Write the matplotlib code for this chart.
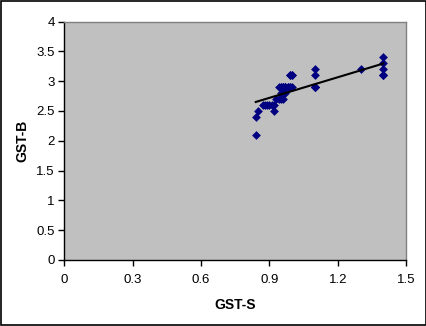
import matplotlib
matplotlib.use("Agg")
import matplotlib.pyplot as plt
import numpy as np

plt.rcParams['font.family'] = ['Liberation Sans', 'DejaVu Sans']

gst_s = [0.84, 0.84, 0.85, 0.87, 0.88, 0.89, 0.90, 0.91, 0.92, 0.92, 0.93, 0.94,
         0.95, 0.96, 0.94, 0.95, 0.96, 0.97, 0.98, 0.99, 1.00, 0.95, 0.97, 0.99,
         1.00, 1.10, 1.10, 1.10, 1.30, 1.40, 1.40, 1.40, 1.40,
         0.99, 1.00, 0.96, 0.97, 0.98, 0.99, 0.96, 0.97, 0.95, 0.96,
         1.40, 1.40, 1.10, 1.10, 1.10]
gst_b = [2.1, 2.4, 2.5, 2.6, 2.6, 2.6, 2.6, 2.6, 2.6, 2.5, 2.7, 2.7,
         2.7, 2.7, 2.9, 2.9, 2.9, 2.9, 2.9, 2.9, 2.9, 2.8, 2.8, 3.1,
         3.1, 3.2, 3.1, 2.9, 3.2, 3.4, 3.3, 3.2, 3.1,
         3.1, 3.1, 2.9, 2.9, 2.9, 2.9, 2.9, 2.9, 2.9, 2.8,
         3.1, 3.1, 2.9, 2.9, 2.9]
x_ticks = [0, 0.3, 0.6, 0.9, 1.2, 1.5]
x_tick_labels = ['0', '0.3', '0.6', '0.9', '1.2', '1.5']
y_ticks = [0, 0.5, 1, 1.5, 2, 2.5, 3, 3.5, 4]
y_tick_labels = ['0', '0.5', '1', '1.5', '2', '2.5', '3', '3.5', '4']

fig = plt.figure(figsize=(4.27, 3.26), dpi=100)
fig.patch.set_facecolor('white')
ax = fig.add_axes([0.151, 0.2025, 0.800, 0.7315])
ax.set_facecolor('#C0C0C0')

ax.scatter(gst_s, gst_b, marker='D', s=20, color='#000080', zorder=3, linewidths=0)

xs = np.array(gst_s)
ys = np.array(gst_b)
m, b = np.polyfit(xs, ys, 1)
xl = np.array([xs.min(), xs.max()])
ax.plot(xl, m * xl + b, color='black', lw=1.5, zorder=4)

ax.set_xlim(0, 1.5)
ax.set_ylim(0, 4)
ax.set_xticks(x_ticks)
ax.set_xticklabels(x_tick_labels)
ax.set_yticks(y_ticks)
ax.set_yticklabels(y_tick_labels)
ax.tick_params(direction='out', length=4, width=1, labelsize=9.5, colors='black', pad=3)
ax.tick_params(axis='x', pad=6)

for s in ['left', 'bottom']:
    ax.spines[s].set_color('black')
    ax.spines[s].set_linewidth(1)
for s in ['top', 'right']:
    ax.spines[s].set_color('#808080')
    ax.spines[s].set_linewidth(1)

ax.set_xlabel('GST-S', fontsize=10, fontweight='bold', labelpad=9)
ax.set_ylabel('GST-B', fontsize=10, fontweight='bold', labelpad=5)

border = plt.Rectangle((0.002, 0.002), 0.996, 0.996, transform=fig.transFigure,
                       fill=False, edgecolor='black', lw=1.2)
fig.patches.append(border)

fig.savefig('out.png', dpi=100)
